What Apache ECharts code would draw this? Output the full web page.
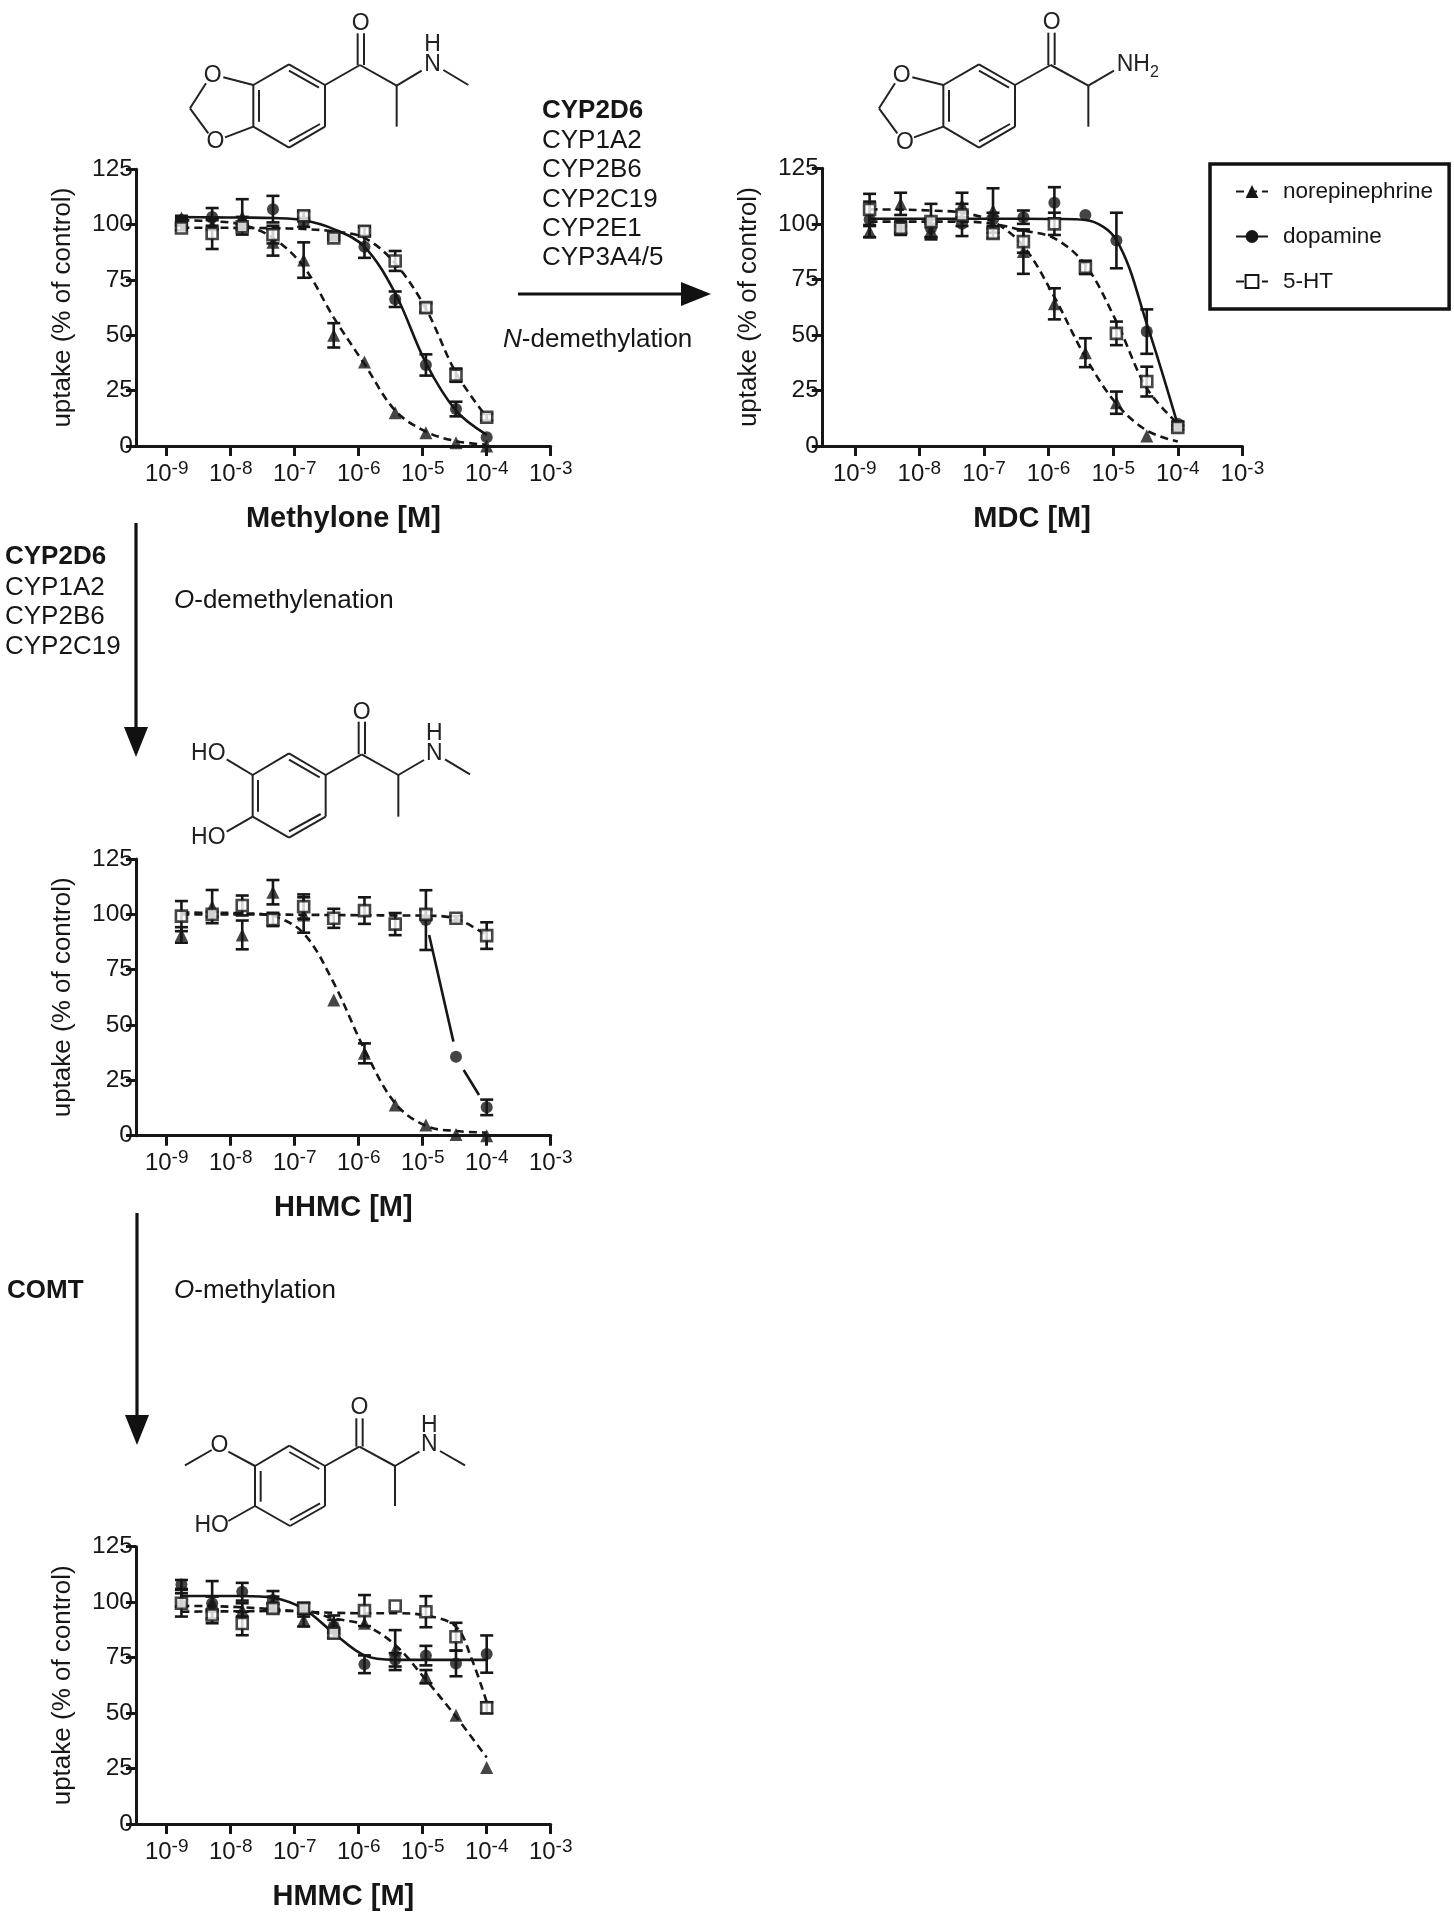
<!DOCTYPE html>
<html><head><meta charset="utf-8">
<style>html,body{margin:0;padding:0;background:#fff}#c{width:1454px;height:1920px}</style>
<script src="https://cdn.jsdelivr.net/npm/echarts@6/dist/echarts.min.js"></script>
</head><body><div id="c"></div>
<script>
// ---- data: log10 of molar concentration, uptake in % of control ----
const logConc = [-8.77,-8.29,-7.82,-7.34,-6.86,-6.39,-5.91,-5.43,-4.95,-4.48,-4];
const decades = [-9,-8,-7,-6,-5,-4,-3];
const yTicks = [0,25,50,75,100,125];
const compounds = ['norepinephrine','dopamine','5-HT'];
const panelNames = ['Methylone [M]','MDC [M]','HHMC [M]','HMMC [M]'];

const methyloneNE    = [103,100,103.5,92,84,50,38,15,6,1.5,0];
const methyloneNEerr = [1,2,8,6,8,5.5,0,0,0,0,0];
const methyloneDA    = [102,103.5,100.5,107,101,95,90,66.3,36.6,16.7,4];
const methyloneDAerr = [1,4,3,6,2,1,5,3.5,4.8,3.3,0];
const methylone5HT   = [98.5,96,99,95.5,104,94,97,83.6,62.5,32,13];
const methylone5HTerr= [1,7,1,4,2,1,2,4.5,2,3,1.5];
const methyloneNEfit = [102,101.5,100,94,81,58,37,16,6.5,2.2,0.6];
const methyloneDAfit = [103.4,103.3,103.2,103,102,98,90,69,37.5,16,5];
const methylone5HTfit= [98.6,98.6,98.5,98.4,98,97,94,82.5,62,33,13];

const mdcNE    = [96.5,109,97,108.5,106,87.5,64,42,19.5,4.5,null];
const mdcNEerr = [2.5,5,3,5.5,10,10,7,6.5,5,0,0];
const mdcDA    = [102,99,98,100,102,103,109.5,104,92.5,51.5,10];
const mdcDAerr = [8,3,4,5.5,3,3,7,0,12.5,10,1];
const mdc5HT   = [106.5,98,101,104,95.7,92,100,80.4,50.7,29,8.4];
const mdc5HTerr= [7,3,8,5,2,5,5,3,5.3,6.7,1];
const mdcNEfit = [106.5,106.4,106,105,101,90,67,40,19,7,2];
const mdcDAfit = [102.3,102.3,102.3,102.3,102.3,102.3,102.2,101.7,92.7,55,9.5];
const mdc5HTfit= [101,101,101,101,100,97,93.5,81.5,56,26,10];

const hhmcNE    = [90.7,103.5,90.7,110,99.7,61.3,37.2,13.9,4.8,0.5,0];
const hhmcNEerr = [3.5,7.5,6.5,5.5,8,0,4.5,0,0,0,0];
const hhmcDA    = [null,null,null,null,null,null,null,null,97.4,35.7,12.8];
const hhmcDAerr = [0,0,0,0,0,0,0,0,13.5,0,3.5];
const hhmc5HT   = [99.2,100,104,97.7,103.5,98.2,101.7,95.6,100,98.2,90.4];
const hhmc5HTerr= [6.8,1,4.5,3,5.5,4.3,6,5,2,1,6];
const hhmcNEfit = [100.8,100.7,100.5,99.2,91.4,69,39,14.6,4.4,2.1,1.4];
const hhmc5HTfit= [100,100,100,99.9,99.8,99.7,99.6,99.5,99.4,98,90.5];
const hhmcDAfitX = [-4.9,-4.52,null,-4.36,-4.12];
const hhmcDAfit  = [90.7,42.5,null,29.7,18.4];

const hmmcNE    = [101,100,96.5,99.5,92,90.5,90.5,78.4,66.4,49,25.5];
const hmmcNEerr = [3,9.5,3,3,3,3.5,0,9,3,0,0];
const hmmcDA    = [108,99.5,104.7,101,96.5,89,72,74,75.9,72.4,76.6];
const hmmcDAerr = [2,3,4,4,3,3,4,3,4.4,5.8,8.4];
const hmmc5HT   = [99.5,94.2,90.4,97.2,97.2,86,96.2,98.3,95.7,84.4,52.4];
const hmmc5HTerr= [6,1.5,5.3,2,2.5,2,7,0,7,6.3,2.5];
const hmmcNEfit = [95.7,95.8,95.9,96,96,92.7,89.7,80.7,65,48.4,30];
const hmmcDAfit = [102.8,102.8,102.8,102,97,86,76,74,74,74,74];
const hmmc5HTfitX = [-8.77,-8.29,-7.82,-7.34,-6.86,-6.39,-5.91,-5.43,-4.95,-4.48,-4.23,-4];
const hmmc5HTfit = [98.3,98.2,97.7,96.8,95.7,95.2,95,95,94,89,74,55];

// ---- layout ----
const FONT='"Liberation Sans",Arial,sans-serif', INK='#161616';
const panels=[
 {left:136,width:414.7,top:169.3,bottom:446,xmin:-9.48,y:[methyloneNE,methyloneDA,methylone5HT],e:[methyloneNEerr,methyloneDAerr,methylone5HTerr],
  fit:[[logConc,methyloneNEfit],[logConc,methyloneDAfit],[logConc,methylone5HTfit]]},
 {left:821.8,width:420.6,top:168.3,bottom:446,xmin:-9.51,y:[mdcNE,mdcDA,mdc5HT],e:[mdcNEerr,mdcDAerr,mdc5HTerr],
  fit:[[logConc,mdcNEfit],[logConc,mdcDAfit],[logConc,mdc5HTfit]]},
 {left:136,width:414.7,top:859,bottom:1135.7,xmin:-9.48,y:[hhmcNE,hhmcDA,hhmc5HT],e:[hhmcNEerr,hhmcDAerr,hhmc5HTerr],
  fit:[[logConc,hhmcNEfit],[hhmcDAfitX,hhmcDAfit],[logConc,hhmc5HTfit]]},
 {left:136,width:414.7,top:1546.7,bottom:1824,xmin:-9.48,y:[hmmcNE,hmmcDA,hmmc5HT],e:[hmmcNEerr,hmmcDAerr,hmmc5HTerr],
  fit:[[logConc,hmmcNEfit],[logConc,hmmcDAfit],[hmmc5HTfitX,hmmc5HTfit]]}
];
const sym=['triangle','circle','rect'], symSize=[13,12,11];
const dash=[[8,5],null,[8,5]];
const markStyle=[{color:INK},{color:INK},{color:'#fff',borderColor:INK,borderWidth:2.6}];

const grids=[],xAxes=[],yAxes=[],series=[];
panels.forEach((p,i)=>{
  grids.push({left:p.left,width:p.width,top:p.top,height:p.bottom-p.top,containLabel:false});
  xAxes.push({type:'value',gridIndex:i,min:p.xmin,max:-3,position:'bottom',
    name:panelNames[i],nameLocation:'middle',nameGap:58,
    nameTextStyle:{fontFamily:FONT,fontSize:29,fontWeight:'bold',color:INK},
    axisLine:{onZero:false,lineStyle:{color:INK,width:3}},
    axisTick:{customValues:decades,length:10,lineStyle:{color:INK,width:3}},
    splitLine:{show:false},
    axisLabel:{customValues:decades,margin:13,hideOverlap:false,
      formatter:v=>'{a|10}{b|'+v+'}',
      rich:{a:{fontFamily:FONT,fontSize:24,color:INK},b:{fontFamily:FONT,fontSize:19,color:INK,padding:[0,0,11,0]}}}});
  yAxes.push({type:'value',gridIndex:i,min:0,max:125,interval:25,
    name:'uptake (% of control)',nameLocation:'middle',nameGap:60,
    nameTextStyle:{fontFamily:FONT,fontSize:26,color:INK},
    axisLine:{onZero:false,lineStyle:{color:INK,width:3}},
    axisTick:{length:10,lineStyle:{color:INK,width:3}},splitLine:{show:false},
    axisLabel:{margin:3,fontFamily:FONT,fontSize:24.5,color:INK,customValues:yTicks}});
  compounds.forEach((name,k)=>{
    const [fx,fy]=p.fit[k];
    series.push({type:'line',name,xAxisIndex:i,yAxisIndex:i,z:2,smooth:fx===logConc||fx===hmmc5HTfitX?0.35:false,
      symbol:sym[k],symbolSize:symSize[k],showSymbol:false,connectNulls:false,silent:true,
      itemStyle:markStyle[k],
      lineStyle:{color:INK,width:2.6,type:dash[k]||'solid'},
      data:fx.map((x,j)=>x==null?[null,null]:[x,fy[j]])});
  });
  compounds.forEach((name,k)=>{
    series.push({type:'custom',name,xAxisIndex:i,yAxisIndex:i,z:3,silent:true,
      encode:{x:0,y:1},clip:false,
      data:logConc.map((x,j)=>[x,p.y[k][j],p.e[k][j]]).filter(d=>d[1]!=null&&d[2]>0),
      renderItem:(params,api)=>{
        const x=api.value(0),y=api.value(1),e=api.value(2);
        const a=api.coord([x,y+e]),b=api.coord([x,y-e]);
        const st={stroke:INK,lineWidth:2.6};
        const ln=(x1,y1,x2,y2)=>({type:'line',shape:{x1,y1,x2,y2},style:st});
        return {type:'group',children:[ln(a[0],a[1],b[0],b[1]),ln(a[0]-6.5,a[1],a[0]+6.5,a[1]),ln(b[0]-6.5,b[1],b[0]+6.5,b[1])]};
      }});
  });
  compounds.forEach((name,k)=>{
    series.push({type:'scatter',name,xAxisIndex:i,yAxisIndex:i,z:4+(k===2?1:0),silent:true,
      symbol:sym[k],symbolSize:symSize[k],itemStyle:markStyle[k],
      data:logConc.map((x,j)=>[x,p.y[k][j]]).filter(d=>d[1]!=null)});
  });
});

// ---- decorations: structures, arrows and enzyme text ----
const g=[];
function bonds(ox,oy,list){list.forEach(b=>g.push({type:'line',silent:true,
  shape:{x1:ox+b[0]/3,y1:oy+b[1]/3,x2:ox+b[2]/3,y2:oy+b[3]/3},style:{stroke:'#222',lineWidth:2}}));}
function atom(ox,oy,x,y,t,size,align){g.push({type:'text',silent:true,x:ox+x/3,y:oy+y/3,
  style:{text:t,font:(size||23)+'px '+FONT,fill:'#222',align:align||'center',verticalAlign:'middle'}});}
function label(x,y,t,opt){opt=opt||{};g.push({type:'text',silent:true,x,y,style:{text:t,
  font:(opt.bold?'bold ':'')+'26px '+FONT,fill:INK,verticalAlign:'middle',
  rich:{i:{font:'italic 26px '+FONT,fill:INK}}}});}
function arrow(x1,y1,x2,y2){const horiz=y1===y2,hl=30,hw=12;
  g.push({type:'line',silent:true,shape:horiz?{x1,y1,x2:x2-hl+2,y2}:{x1,y1,x2,y2:y2-hl+2},style:{stroke:'#111',lineWidth:3.2}});
  g.push({type:'polygon',silent:true,shape:{points:horiz?[[x2,y2],[x2-hl,y2-hw],[x2-hl,y2+hw]]:[[x2,y2],[x2-hw,y2-hl],[x2+hw,y2-hl]]},style:{fill:'#111'}});}

const ringA=[[250,255,357,193],[357,193,465,255],[465,255,465,380],[465,380,357,443],[357,443,250,380],[250,380,250,255],
             [357,212,447,263],[267,270,267,365],[357,424,450,372]];
// methylone
bonds(170,0,ringA.concat([[250,255,160,232],[250,380,165,412],[108,250,60,325],[60,325,115,400],
  [465,255,570,195],[563,195,563,100],[582,195,582,100],[570,195,680,257],[680,257,680,380],[680,257,755,212],[820,210,895,255]]));
atom(170,0,128,226,'O');atom(170,0,136,426,'O');atom(170,0,572,72,'O');atom(170,0,788,195,'N');atom(170,0,788,135,'H');
// MDC
bonds(860,0,ringA.concat([[250,255,157,232],[250,380,162,412],[105,250,57,325],[57,325,112,400],
  [465,255,572,195],[565,195,565,98],[584,195,584,98],[572,195,685,257],[685,257,685,380],[685,257,762,212]]));
atom(860,0,125,226,'O');atom(860,0,135,428,'O');atom(860,0,575,68,'O');atom(860,0,770,193,'NH',23,'left');atom(860,0,870,218,'2',16,'left');
// HHMC
bonds(170,690,[[248,255,357,190],[357,190,467,255],[467,255,467,380],[467,380,357,443],[357,443,248,380],[248,380,248,255],
  [357,209,449,262],[264,270,264,365],[357,424,452,372],[248,255,170,208],[248,380,170,425],
  [467,255,575,193],[566,193,566,95],[585,193,585,95],[575,193,685,255],[685,255,685,380],[685,255,762,210],[825,208,900,253]]);
atom(170,690,115,190,'HO');atom(170,690,115,443,'HO');atom(170,690,575,68,'O');atom(170,690,793,190,'N');atom(170,690,793,130,'H');
// HMMC
bonds(170,1390,[[255,228,358,167],[358,167,465,228],[465,228,465,348],[465,348,360,408],[360,408,255,348],[255,348,255,228],
  [358,186,448,237],[272,243,272,335],[360,390,450,340],[255,228,175,185],[125,180,45,226],[255,348,175,393],
  [465,228,568,170],[559,170,559,85],[578,170,578,85],[568,170,675,228],[675,228,675,348],[675,228,748,185],[810,183,885,226]]);
atom(170,1390,148,167,'O');atom(170,1390,125,408,'HO');atom(170,1390,568,52,'O');atom(170,1390,778,165,'N');atom(170,1390,778,108,'H');

label(542,111,'CYP2D6',{bold:1});label(542,141,'CYP1A2');label(542,170,'CYP2B6');label(542,200,'CYP2C19');label(542,229,'CYP2E1');label(542,258,'CYP3A4/5');
label(503,340,'{i|N}-demethylation');
arrow(518,294,711,294);
label(5,557,'CYP2D6',{bold:1});label(5,588,'CYP1A2');label(5,617,'CYP2B6');label(5,647,'CYP2C19');
label(174,601,'{i|O}-demethylenation');
arrow(136,523,136,757);
label(7,1291,'COMT',{bold:1});
label(174,1291,'{i|O}-methylation');
arrow(137,1213,137,1445);

echarts.init(document.getElementById('c'),null,{renderer:'canvas'}).setOption({
  animation:false,backgroundColor:'#fff',
  grid:grids,xAxis:xAxes,yAxis:yAxes,series,graphic:g,
  legend:{show:true,data:compounds,orient:'vertical',left:1210,top:164,selectedMode:false,
    borderColor:'#111',borderWidth:3.5,padding:[16,16,16,25],itemGap:22,itemWidth:32,itemHeight:16,
    textStyle:{fontFamily:FONT,fontSize:22.5,color:INK,padding:[0,0,0,10]}}
});
</script></body></html>
